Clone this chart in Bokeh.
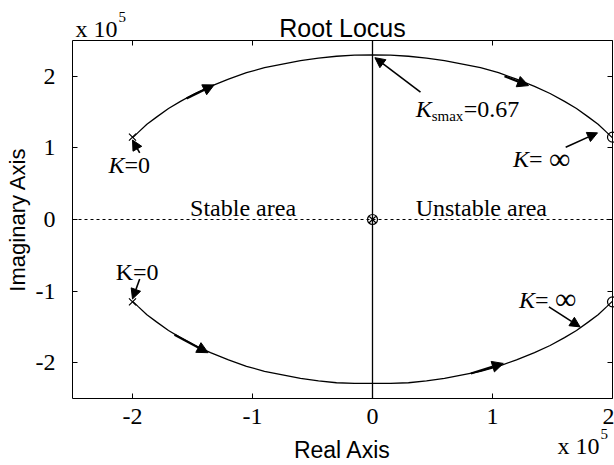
from bokeh.plotting import figure
from bokeh.models import Range1d, LinearAxis, Label, Arrow, NormalHead, FixedTicker
from bokeh.embed import file_html
from bokeh.resources import INLINE

# Root-locus branches (real / imaginary parts, in units of 1e5)
upper_re = [-2.00, -1.95, -1.88, -1.80, -1.70, -1.60, -1.48, -1.35, -1.20, -1.05, -0.90, -0.75, -0.60,
            -0.45, -0.30, -0.15, 0.00, 0.15, 0.30, 0.45, 0.60, 0.75, 0.90, 1.05, 1.20, 1.35, 1.48,
            1.60, 1.70, 1.80, 1.88, 1.95, 2.00]
upper_im = [1.14, 1.22, 1.33, 1.43, 1.55, 1.65, 1.76, 1.86, 1.96, 2.05, 2.12, 2.17, 2.22,
            2.255, 2.28, 2.295, 2.30, 2.295, 2.28, 2.255, 2.22, 2.17, 2.12, 2.05, 1.96, 1.86, 1.76,
            1.65, 1.55, 1.43, 1.33, 1.22, 1.14]
lower_re = [-2.00, -1.95, -1.88, -1.80, -1.70, -1.60, -1.48, -1.35, -1.20, -1.05, -0.90, -0.75, -0.60,
            -0.45, -0.30, -0.15, 0.00, 0.15, 0.30, 0.45, 0.60, 0.75, 0.90, 1.05, 1.20, 1.35, 1.48,
            1.60, 1.70, 1.80, 1.88, 1.95, 2.00]
lower_im = [-1.14, -1.22, -1.33, -1.43, -1.55, -1.65, -1.76, -1.86, -1.96, -2.05, -2.12, -2.17, -2.22,
            -2.255, -2.28, -2.29, -2.29, -2.29, -2.28, -2.255, -2.22, -2.17, -2.12, -2.05, -1.96, -1.86,
            -1.76, -1.65, -1.55, -1.43, -1.33, -1.22, -1.14]
# branch running along the imaginary axis
axis_branch_re = [0.0, 0.0]
axis_branch_im = [-2.5, 2.5]

pole_re = [-2.0, -2.0]
pole_im = [1.15, -1.15]
zero_re = [2.0, 2.0]
zero_im = [1.15, -1.15]
origin_re = [0.0]
origin_im = [0.0]

# axes box and stability boundary
re_lim = [-2.5, 2.0]
im_lim = [-2.5, 2.5]
boundary_im = [0.0, 0.0]

x_ticks = [-2, -1, 0, 1, 2]
y_ticks = [-2, -1, 0, 1, 2]
tick_text = {-2: "-2", -1: "-1", 0: "0", 1: "1", 2: "2"}

# direction-of-increasing-gain arrows along the branches: (x0, y0, x1, y1)
direction_arrows = [
    (-1.55, 1.69, -1.32, 1.88),
    (1.10, 2.00, 1.30, 1.87),
    (-1.65, -1.61, -1.37, -1.86),
    (0.82, -2.15, 1.09, -2.01),
]
# annotation pointers: (x0, y0, x1, y1)
pointer_arrows = [
    (-1.94, 0.93, -2.00, 1.11),
    (-1.94, -0.83, -2.00, -1.11),
    (0.40, 1.78, 0.02, 2.26),
    (1.61, 1.01, 1.875, 1.21),
    (1.47, -1.22, 1.73, -1.50),
]

SERIF = "Liberation Serif"
SANS = "Liberation Sans"
W, H = 614, 465
# pixel geometry of the axes box inside the canvas
BOX_L, BOX_R, BOX_T, BOX_B = 72, 612, 40, 398
sx = (BOX_R - BOX_L) / (re_lim[1] - re_lim[0])
sy = (BOX_B - BOX_T) / (im_lim[1] - im_lim[0])
x_range = Range1d(re_lim[0] - BOX_L / sx, re_lim[1] + (W - BOX_R) / sx)
y_range = Range1d(im_lim[0] - (H - BOX_B) / sy, im_lim[1] + BOX_T / sy)

p = figure(width=W, height=H, x_range=x_range, y_range=y_range,
           output_backend="svg", toolbar_location=None, x_axis_location=None, y_axis_location=None,
           min_border=0, min_border_left=0, min_border_right=0, min_border_top=0, min_border_bottom=0)
p.background_fill_color = "white"
p.border_fill_color = "white"
p.outline_line_color = None
p.xgrid.visible = False
p.ygrid.visible = False


def make_axis(ticks, loc, bounds, labelled):
    ax = LinearAxis(ticker=FixedTicker(ticks=ticks), fixed_location=loc, bounds=tuple(bounds))
    ax.major_tick_in = 5
    ax.major_tick_out = 0
    ax.minor_tick_in = 0
    ax.minor_tick_out = 0
    ax.axis_line_color = "black"
    ax.axis_line_width = 1
    ax.major_tick_line_color = "black"
    if labelled:
        ax.major_label_overrides = tick_text
        ax.major_label_text_font = SERIF
        ax.major_label_text_font_size = "24px"
        ax.major_label_text_color = "black"
        ax.axis_label_text_font = SANS
        ax.axis_label_text_font_size = "23px"
        ax.axis_label_text_font_style = "normal"
        ax.axis_label_text_color = "black"
    else:
        ax.major_label_overrides = {t: "" for t in ticks}
        ax.major_label_standoff = 0
    return ax


xax = make_axis(x_ticks, im_lim[0], re_lim, True)
xax.axis_label = "Real Axis"
xax.major_label_standoff = 10
xax.axis_label_standoff = 10
p.add_layout(xax, "below")

yax = make_axis(y_ticks, re_lim[0], im_lim, True)
yax.axis_label = "Imaginary Axis"
yax.axis_label_text_font_size = "22px"
yax.major_label_standoff = 17
yax.axis_label_standoff = 3
p.add_layout(yax, "left")

p.add_layout(make_axis(x_ticks, im_lim[1], re_lim, False), "above")
p.add_layout(make_axis(y_ticks, re_lim[1], im_lim, False), "right")

# stability boundary
p.line(re_lim, boundary_im, line_color="black", line_width=1, line_dash="3 3")

# locus branches
p.line(upper_re, upper_im, line_color="black", line_width=1.3)
p.line(lower_re, lower_im, line_color="black", line_width=1.3)
p.line(axis_branch_re, axis_branch_im, line_color="black", line_width=1.3)

# poles and zeros
p.scatter(pole_re, pole_im, marker="x", size=10, line_color="black", line_width=1.2)
p.scatter(zero_re, zero_im, marker="circle", size=10, line_color="black", fill_color=None, line_width=1.2)
p.scatter(origin_re, origin_im, marker="circle_x", size=10, line_color="black", fill_color=None, line_width=1.2)

for x0, y0, x1, y1 in direction_arrows:
    p.add_layout(Arrow(x_start=x0, y_start=y0, x_end=x1, y_end=y1, line_width=2.2, line_color="black",
                       end=NormalHead(size=11, fill_color="black", line_color="black", line_width=1)))
for x0, y0, x1, y1 in pointer_arrows:
    p.add_layout(Arrow(x_start=x0, y_start=y0, x_end=x1, y_end=y1, line_width=1.6, line_color="black",
                       end=NormalHead(size=10, fill_color="black", line_color="black", line_width=1)))


def text(x, y, s, size="24px", style="normal", font=SERIF, dx=0, dy=0, align="left"):
    p.add_layout(Label(x=x, y=y, text=s, x_offset=dx, y_offset=dy, text_font=font,
                       text_font_size=size, text_font_style=style, text_color="black",
                       text_align=align, text_baseline="alphabetic"))


# title
text(sum(re_lim) / 2, im_lim[1], "Root Locus", size="25px", font=SANS, align="center", dy=13)

text(-1.52, 0.07, "Stable area", dy=6)
text(0.36, 0.07, "Unstable area", dy=6)

# K=0 near the upper pole
text(-2.20, 0.76, "K", style="italic")
text(-2.20, 0.76, "=0", dx=16)
# K=0 near the lower pole
text(-2.14, -0.79, "K=0", dy=4)
# K_smax = 0.67
text(0.36, 1.46, "K", style="italic", dy=6)
text(0.36, 1.46, "smax", size="15px", dx=16, dy=-1)
text(0.36, 1.46, "=0.67", dx=48, dy=6)
# K = infinity near the zeros
text(1.17, 0.76, "K", style="italic", dy=6)
text(1.17, 0.76, "=", dx=16, dy=6)
text(1.17, 0.76, "\u221e", size="30px", dx=36, dy=7)
text(1.22, -1.18, "K", style="italic", dy=4)
text(1.22, -1.18, "=", dx=16, dy=4)
text(1.22, -1.18, "\u221e", size="30px", dx=36, dy=5)

# scale multipliers
text(re_lim[0], im_lim[1], "x 10", dx=3, dy=12)
text(re_lim[0], im_lim[1], "5", size="15px", dx=46, dy=24)
text(re_lim[1], im_lim[0], "x 10", dx=-55, dy=-47)
text(re_lim[1], im_lim[0], "5", size="15px", dx=-12, dy=-35)

open("out.html", "w").write(file_html(p, INLINE))
